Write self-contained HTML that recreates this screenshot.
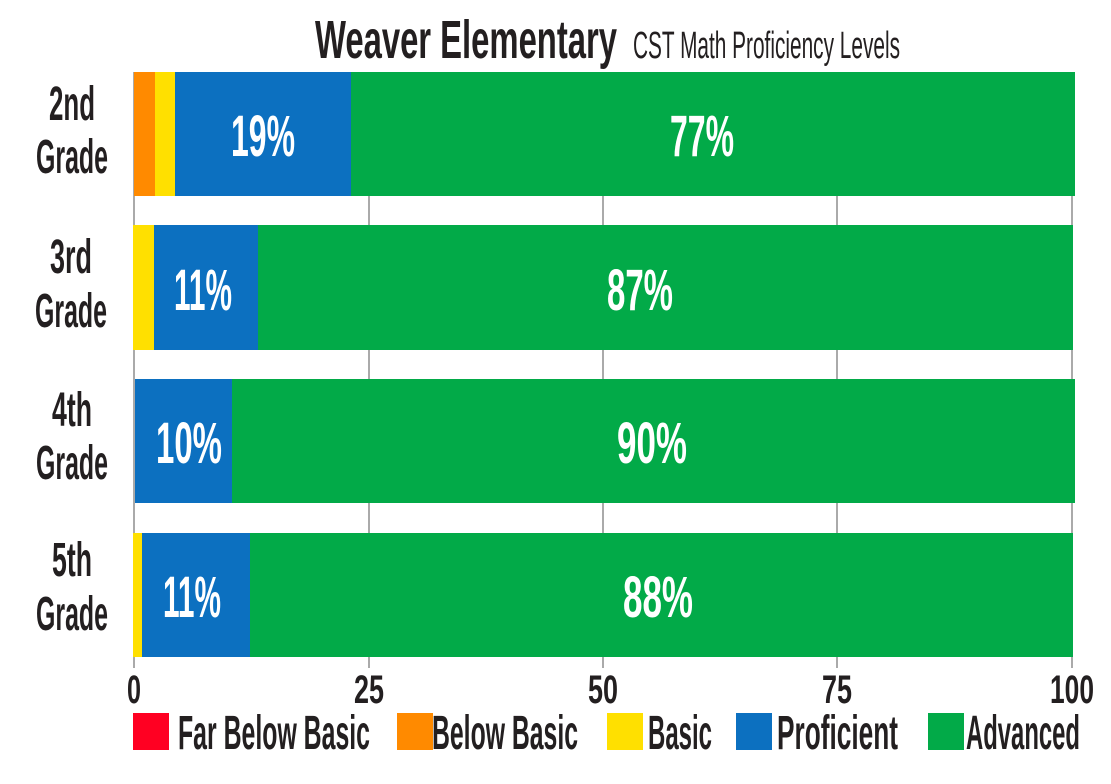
<!DOCTYPE html>
<html><head><meta charset="utf-8"><style>
html,body{margin:0;padding:0;background:#fff;}
svg{display:block;}
text{font-family:"Liberation Sans Narrow","Liberation Sans",sans-serif;}
</style></head><body>
<svg width="1111" height="784" viewBox="0 0 1111 784" xmlns="http://www.w3.org/2000/svg">
<g stroke="#aaa" stroke-width="2">
<line x1="134" y1="72" x2="134" y2="668"/>
<line x1="369" y1="72" x2="369" y2="668"/>
<line x1="603" y1="72" x2="603" y2="668"/>
<line x1="837" y1="72" x2="837" y2="668"/>
<line x1="1072" y1="72" x2="1072" y2="668"/>
</g>
<rect x="134" y="72" width="21" height="124" fill="#ff8a00"/>
<rect x="155" y="72" width="20" height="124" fill="#ffe000"/>
<rect x="175" y="72" width="176" height="124" fill="#0c70c0"/>
<rect x="351" y="72" width="724" height="124" fill="#02aa48"/>
<rect x="133" y="225" width="21" height="125" fill="#ffe000"/>
<rect x="154" y="225" width="104" height="125" fill="#0c70c0"/>
<rect x="258" y="225" width="815" height="125" fill="#02aa48"/>
<rect x="135" y="379" width="97" height="124" fill="#0c70c0"/>
<rect x="232" y="379" width="843" height="124" fill="#02aa48"/>
<rect x="133" y="533" width="9" height="124" fill="#ffe000"/>
<rect x="142" y="533" width="108" height="124" fill="#0c70c0"/>
<rect x="250" y="533" width="823" height="124" fill="#02aa48"/>
<g fill="#fff" font-size="58" text-anchor="middle" font-weight="bold">
<text x="263" y="156" textLength="64" lengthAdjust="spacingAndGlyphs">19%</text>
<text x="702" y="156" textLength="64" lengthAdjust="spacingAndGlyphs">77%</text>
<text x="203" y="310" textLength="58" lengthAdjust="spacingAndGlyphs">11%</text>
<text x="640" y="310" textLength="66" lengthAdjust="spacingAndGlyphs">87%</text>
<text x="189" y="463" textLength="66" lengthAdjust="spacingAndGlyphs">10%</text>
<text x="652" y="463" textLength="70" lengthAdjust="spacingAndGlyphs">90%</text>
<text x="192" y="617" textLength="58" lengthAdjust="spacingAndGlyphs">11%</text>
<text x="658" y="617" textLength="70" lengthAdjust="spacingAndGlyphs">88%</text>
</g>
<g fill="#231f20" font-size="48" text-anchor="middle" font-weight="bold">
<text x="72" y="120" textLength="46" lengthAdjust="spacingAndGlyphs">2nd</text>
<text x="72" y="173" textLength="72" lengthAdjust="spacingAndGlyphs">Grade</text>
<text x="71" y="273" textLength="42" lengthAdjust="spacingAndGlyphs">3rd</text>
<text x="71" y="327" textLength="72" lengthAdjust="spacingAndGlyphs">Grade</text>
<text x="72" y="426" textLength="40" lengthAdjust="spacingAndGlyphs">4th</text>
<text x="72" y="479" textLength="72" lengthAdjust="spacingAndGlyphs">Grade</text>
<text x="72" y="576" textLength="40" lengthAdjust="spacingAndGlyphs">5th</text>
<text x="72" y="630" textLength="72" lengthAdjust="spacingAndGlyphs">Grade</text>
</g>
<g fill="#231f20" font-size="40" text-anchor="middle" font-weight="bold">
<text x="134" y="703" textLength="14" lengthAdjust="spacingAndGlyphs">0</text>
<text x="369" y="703" textLength="30" lengthAdjust="spacingAndGlyphs">25</text>
<text x="603" y="703" textLength="30" lengthAdjust="spacingAndGlyphs">50</text>
<text x="837" y="703" textLength="30" lengthAdjust="spacingAndGlyphs">75</text>
<text x="1072" y="703" textLength="44" lengthAdjust="spacingAndGlyphs">100</text>
</g>
<text x="315" y="58" font-size="54" font-weight="bold" fill="#231f20" textLength="302" lengthAdjust="spacingAndGlyphs">Weaver Elementary</text>
<text x="633" y="58" font-size="38" fill="#231f20" textLength="267" lengthAdjust="spacingAndGlyphs">CST Math Proficiency Levels</text>
<rect x="133" y="713" width="36" height="37" fill="#ff0022"/>
<rect x="397" y="713" width="36" height="37" fill="#ff8a00"/>
<rect x="607" y="713" width="36" height="37" fill="#ffe000"/>
<rect x="736" y="713" width="36" height="37" fill="#0c70c0"/>
<rect x="928" y="713" width="36" height="37" fill="#02aa48"/>
<g fill="#231f20" font-size="48" font-weight="bold">
<text x="178" y="749" textLength="192" lengthAdjust="spacingAndGlyphs">Far Below Basic</text>
<text x="432" y="749" textLength="146" lengthAdjust="spacingAndGlyphs">Below Basic</text>
<text x="648" y="749" textLength="64" lengthAdjust="spacingAndGlyphs">Basic</text>
<text x="777" y="749" textLength="121" lengthAdjust="spacingAndGlyphs">Proficient</text>
<text x="966" y="749" textLength="114" lengthAdjust="spacingAndGlyphs">Advanced</text>
</g>
</svg>
</body></html>
